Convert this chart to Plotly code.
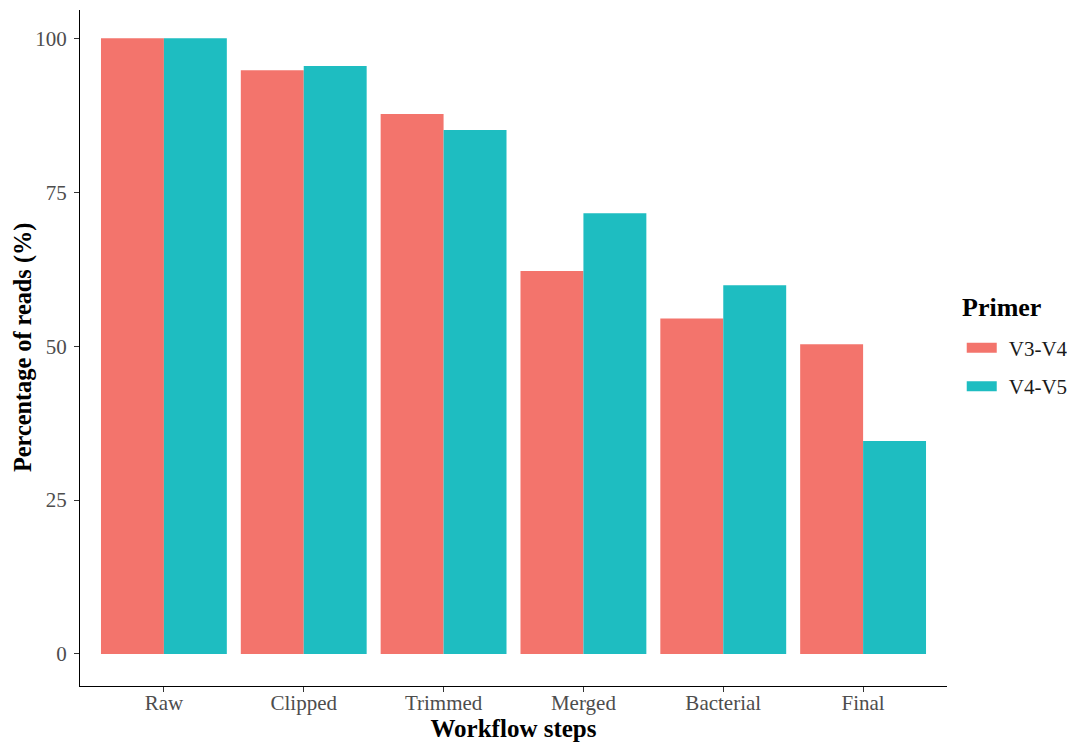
import plotly.graph_objects as go

steps = ["Raw", "Clipped", "Trimmed", "Merged", "Bacterial", "Final"]
v3_v4 = [100.0, 94.8, 87.7, 62.2, 54.5, 50.3]
v4_v5 = [100.0, 95.5, 85.1, 71.6, 59.9, 34.6]
series_names = ["V3-V4", "V4-V5"]
colors = ["#F3746C", "#1EBDC1"]
y_ticks = [0, 25, 50, 75, 100]

FONT = "Liberation Serif, Times New Roman, serif"

fig = go.Figure()
for name, vals, col in zip(series_names, [v3_v4, v4_v5], colors):
    fig.add_trace(go.Bar(x=steps, y=vals, name=name, showlegend=False,
                         marker=dict(color=col, line=dict(width=0))))
# legend keys drawn as wide swatches (ggplot style)
for i, (name, col) in enumerate(zip(series_names, colors)):
    fig.add_trace(go.Scatter(x=[None], y=[None], mode="lines", name="\u2004" + name,
                             legendgroup=str(i), line=dict(color=col, width=10)))

fig.update_layout(
    width=1075, height=747,
    margin=dict(l=72, r=136, t=2, b=69, autoexpand=False),
    paper_bgcolor="white", plot_bgcolor="white",
    barmode="group", bargap=0.1, bargroupgap=0,
    font=dict(family=FONT, size=21, color="#4D4D4D"),
    legend=dict(
        x=1.017, xanchor="left", y=0.53, yanchor="top",
        font=dict(family=FONT, size=21, color="#1a1a1a"),
        traceorder="grouped", tracegroupgap=8, itemwidth=30,
    ),
    annotations=[
        dict(text="<b>Primer</b>", xref="paper", yref="paper",
             x=1.015, xanchor="left", y=0.56, yanchor="middle",
             showarrow=False, font=dict(family=FONT, size=26, color="black")),
        dict(text="<b>Percentage of reads (%)</b>", xref="paper", yref="paper",
             x=-0.0657, xanchor="center", y=0.5, yanchor="middle", textangle=-90,
             showarrow=False, font=dict(family=FONT, size=24.3, color="black")),
    ],
    showlegend=True,
)
fig.update_xaxes(
    range=[-0.6, 5.6], showline=True, linecolor="black", linewidth=1.3,
    ticks="outside", ticklen=5, tickcolor="#333333", tickwidth=1.3,
    showgrid=False, zeroline=False, automargin=False, ticklabelstandoff=-7,
    tickfont=dict(family=FONT, size=21, color="#4D4D4D"),
    title=dict(text="<b>Workflow steps</b>", font=dict(family=FONT, size=25, color="black"), standoff=1),
)
fig.update_yaxes(
    range=[-5.2, 104.6], tickvals=y_ticks, showline=True, linecolor="black", linewidth=1.3,
    ticks="outside", ticklen=5, tickcolor="#333333", tickwidth=1.3,
    showgrid=False, zeroline=False, automargin=False, ticklabelstandoff=3,
    tickfont=dict(family=FONT, size=21, color="#4D4D4D"),
)

fig.write_html("out.html")
